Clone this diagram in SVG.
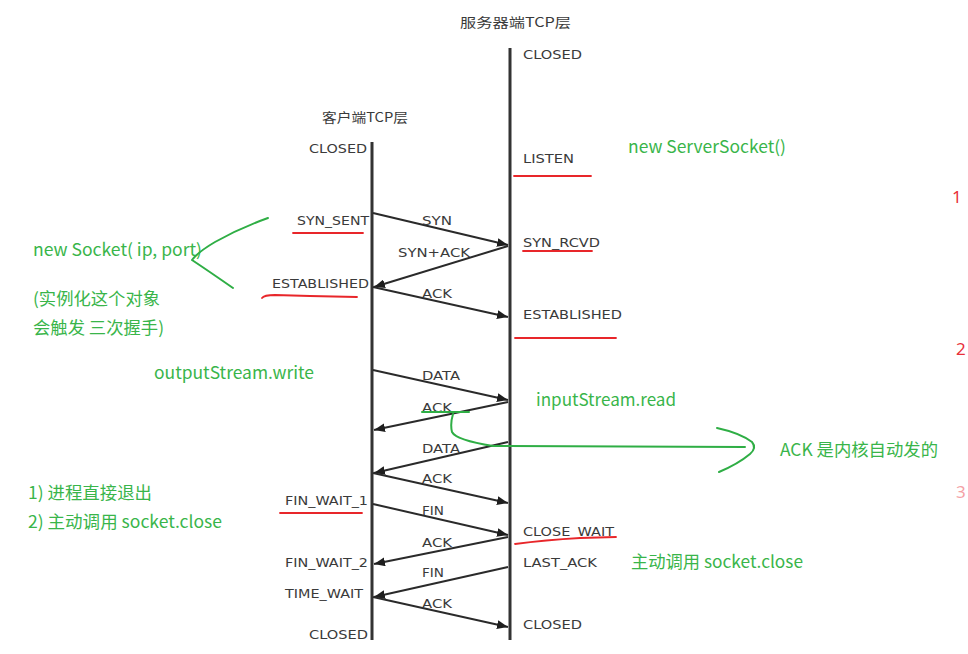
<svg xmlns="http://www.w3.org/2000/svg" width="968" height="654" viewBox="0 0 968 654">
<defs>
<style>
.bg{fill:#ffffff}
.life{stroke:#333333;stroke-width:3;fill:none}
.msg{stroke:#2a2a2a;stroke-width:2;fill:none;marker-end:url(#ah)}
.st{font-family:"DejaVu Sans","Noto Sans CJK SC",sans-serif;font-size:13px;fill:#3a3a3a}
.ttl{font-family:"Noto Sans CJK SC","DejaVu Sans",sans-serif;font-size:13px;fill:#3a3a3a}
.gt{font-family:"Noto Sans CJK SC","Noto Sans",sans-serif;font-size:17px;fill:#39b54a}
.red{stroke:#e8262a;stroke-width:1.8;fill:none;stroke-linecap:round}
.gr{stroke:#2fae45;stroke-width:2;fill:none;stroke-linecap:round;stroke-linejoin:round}
.rn{font-family:"Noto Sans","Noto Sans CJK SC",sans-serif;font-size:17px;fill:#e8303a}
</style>
<marker id="ah" viewBox="0 0 10 8" refX="10" refY="4" markerWidth="11" markerHeight="9" markerUnits="userSpaceOnUse" orient="auto">
<path d="M0,0 L10,4 L0,8 z" fill="#1e1e1e"/>
</marker>
</defs>
<rect class="bg" x="0" y="0" width="968" height="654"/>

<g id="server">
<text class="ttl" x="460" y="27" textLength="111" lengthAdjust="spacingAndGlyphs">服务器端TCP层</text>
<line class="life" x1="510" y1="48" x2="510" y2="640"/>
<text class="st" x="523" y="59" textLength="59" lengthAdjust="spacingAndGlyphs">CLOSED</text>
<text class="st" x="523" y="163" textLength="51" lengthAdjust="spacingAndGlyphs">LISTEN</text>
<text class="st" x="523" y="247" textLength="77" lengthAdjust="spacingAndGlyphs">SYN_RCVD</text>
<text class="st" x="523" y="319" textLength="99" lengthAdjust="spacingAndGlyphs">ESTABLISHED</text>
<text class="st" x="523" y="536" textLength="91" lengthAdjust="spacingAndGlyphs">CLOSE_WAIT</text>
<text class="st" x="523" y="567" textLength="74" lengthAdjust="spacingAndGlyphs">LAST_ACK</text>
<text class="st" x="523" y="629" textLength="59" lengthAdjust="spacingAndGlyphs">CLOSED</text>
</g>

<g id="client">
<text class="ttl" x="322" y="122" textLength="86" lengthAdjust="spacingAndGlyphs">客户端TCP层</text>
<line class="life" x1="372" y1="142" x2="372" y2="640"/>
<text class="st" x="309" y="153" textLength="58" lengthAdjust="spacingAndGlyphs">CLOSED</text>
<text class="st" x="297" y="225" textLength="72" lengthAdjust="spacingAndGlyphs">SYN_SENT</text>
<text class="st" x="272" y="288" textLength="97" lengthAdjust="spacingAndGlyphs">ESTABLISHED</text>
<text class="st" x="285" y="505" textLength="83" lengthAdjust="spacingAndGlyphs">FIN_WAIT_1</text>
<text class="st" x="285" y="567" textLength="83" lengthAdjust="spacingAndGlyphs">FIN_WAIT_2</text>
<text class="st" x="285" y="598" textLength="78" lengthAdjust="spacingAndGlyphs">TIME_WAIT</text>
<text class="st" x="309" y="639" textLength="59" lengthAdjust="spacingAndGlyphs">CLOSED</text>
</g>

<g id="connectors">
<line class="msg" x1="373" y1="213" x2="508" y2="245"/>
<line class="msg" x1="508" y1="246" x2="374" y2="287"/>
<line class="msg" x1="373" y1="287" x2="508" y2="317"/>
<line class="msg" x1="373" y1="370" x2="508" y2="400"/>
<line class="msg" x1="508" y1="402" x2="374" y2="430"/>
<line class="msg" x1="508" y1="442" x2="374" y2="473"/>
<line class="msg" x1="373" y1="473" x2="508" y2="503"/>
<line class="msg" x1="373" y1="504" x2="508" y2="535"/>
<line class="msg" x1="508" y1="537" x2="374" y2="564"/>
<line class="msg" x1="508" y1="567" x2="374" y2="597"/>
<line class="msg" x1="373" y1="597" x2="508" y2="627"/>
</g>

<g id="labels">
<text class="st" x="422" y="225" textLength="30" lengthAdjust="spacingAndGlyphs">SYN</text>
<text class="st" x="398" y="257" textLength="72" lengthAdjust="spacingAndGlyphs">SYN+ACK</text>
<text class="st" x="422" y="298" textLength="30" lengthAdjust="spacingAndGlyphs">ACK</text>
<text class="st" x="422" y="380" textLength="38" lengthAdjust="spacingAndGlyphs">DATA</text>
<text class="st" x="422" y="412" textLength="30" lengthAdjust="spacingAndGlyphs">ACK</text>
<text class="st" x="422" y="453" textLength="38" lengthAdjust="spacingAndGlyphs">DATA</text>
<text class="st" x="422" y="483" textLength="30" lengthAdjust="spacingAndGlyphs">ACK</text>
<text class="st" x="422" y="515" textLength="22" lengthAdjust="spacingAndGlyphs">FIN</text>
<text class="st" x="422" y="547" textLength="30" lengthAdjust="spacingAndGlyphs">ACK</text>
<text class="st" x="422" y="577" textLength="22" lengthAdjust="spacingAndGlyphs">FIN</text>
<text class="st" x="422" y="608" textLength="30" lengthAdjust="spacingAndGlyphs">ACK</text>
</g>

<g id="red-underlines">
<path class="red" d="M514,176 L591,176"/>
<path class="red" d="M293,233 L363,233"/>
<path class="red" d="M523,251 L592,251"/>
<path class="red" d="M262,298 Q264,295 275,295 L310,296 L357,297"/>
<path class="red" d="M515,338 L616,338"/>
<path class="red" d="M280,513 L362,513"/>
<path class="red" d="M515,544 Q545,540 580,538 L616,537"/>
</g>

<g id="annotations">
<text class="gt" x="628" y="153" textLength="158" lengthAdjust="spacingAndGlyphs">new ServerSocket()</text>
<text class="gt" x="33" y="256" textLength="169" lengthAdjust="spacingAndGlyphs">new Socket( ip, port)</text>
<text class="gt" x="33" y="305" textLength="127" lengthAdjust="spacingAndGlyphs">(实例化这个对象</text>
<text class="gt" x="33" y="334" textLength="131" lengthAdjust="spacingAndGlyphs">会触发 三次握手)</text>
<text class="gt" x="154" y="379" textLength="160" lengthAdjust="spacingAndGlyphs">outputStream.write</text>
<text class="gt" x="536" y="406" textLength="140" lengthAdjust="spacingAndGlyphs">inputStream.read</text>
<text class="gt" x="780" y="456" textLength="158" lengthAdjust="spacingAndGlyphs">ACK 是内核自动发的</text>
<text class="gt" x="28" y="499" textLength="124" lengthAdjust="spacingAndGlyphs">1) 进程直接退出</text>
<text class="gt" x="28" y="528" textLength="194" lengthAdjust="spacingAndGlyphs">2) 主动调用 socket.close</text>
<text class="gt" x="631" y="568" textLength="172" lengthAdjust="spacingAndGlyphs">主动调用 socket.close</text>
<text class="rn" x="952" y="203">1</text>
<text class="rn" x="956" y="355">2</text>
<text class="rn" x="956" y="498" opacity="0.45">3</text>
</g>

<g id="green-strokes">
<path class="gr" d="M268,218 Q240,228 215,242 Q198,252 192,260 Q210,272 233,288"/>
<path class="gr" d="M422,412 L469,412"/>
<path class="gr" d="M453,414 Q450,424 452,432 Q456,440 493,446 L745,447"/>
<path class="gr" d="M717,428 Q740,433 752,442 Q757,448 750,454 Q738,464 719,472"/>
</g>
</svg>
